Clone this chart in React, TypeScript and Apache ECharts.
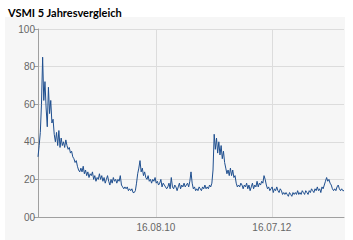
import React, { useEffect, useRef } from "react";
import * as echarts from "echarts";

const TITLE = "VSMI 5 Jahresvergleich";
const START_UTC = Date.UTC(2008, 8, 3);
const STEP_DAYS = 7;
const X_LABEL_DATES = [Date.UTC(2010, 7, 16), Date.UTC(2012, 6, 16)];

// weekly VSMI values
const vsmi2008_09 = [
  32, 38, 45, 60, 85, 62, 72, 58, 48, 69, 55, 62, 50, 52, 44, 40, 45, 38, 46, 37,
  42, 38, 40, 37, 41, 38, 36, 37, 34, 35, 32, 31, 29, 30, 27, 25, 24, 26, 24, 27,
  23, 25, 22, 24, 21, 23, 22, 24, 20, 22, 19, 21, 20, 23, 20, 22, 19, 21, 18, 20,
];
const vsmi2009_10 = [
  22, 19, 17, 20, 18, 21, 19, 20, 18, 20, 19, 22, 17, 16, 15, 16, 15, 16, 14, 15,
  14, 15, 13, 13, 14, 18, 23, 26, 30, 24, 26, 22, 24, 21, 20, 22, 19, 20, 18, 20,
  19, 21, 18, 19, 17, 18, 20, 16, 18, 17, 16, 15, 16, 18, 15, 21, 16, 15, 17, 16,
];
const vsmi2010_11 = [
  14, 16, 18, 15, 17, 16, 18, 16, 17, 18, 16, 19, 24, 18, 15, 16, 14, 15, 14, 16,
  15, 14, 16, 15, 17, 15, 16, 15, 17, 16, 18, 25, 44, 36, 42, 34, 40, 33, 38, 31,
  35, 29, 26, 23, 25, 22, 26, 22, 25, 21, 22, 18, 16, 17, 16, 18, 17, 15, 17, 16,
];
const vsmi2012_13 = [
  18, 15, 17, 14, 16, 18, 15, 17, 16, 19, 16, 18, 17, 19, 18, 22, 20, 17, 15, 16,
  14, 15, 16, 13, 15, 14, 16, 14, 13, 15, 14, 12, 13, 12, 13, 12, 11, 13, 12, 11,
  13, 12, 13, 12, 14, 12, 13, 12, 14, 13, 12, 14, 13, 12, 14, 13, 15, 14, 13, 15,
  14, 16, 14, 15, 13, 16, 15, 17, 19, 21, 19, 20, 18, 17, 15, 14, 15, 14, 16, 17,
  15, 14, 15, 14, 14,
];
const VALUES = [...vsmi2008_09, ...vsmi2009_10, ...vsmi2010_11, ...vsmi2012_13];

const pad2 = (n: number) => (n < 10 ? "0" + n : String(n));
const fmtDate = (v: number) => {
  const d = new Date(v);
  return pad2(d.getUTCDate()) + "." + pad2(d.getUTCMonth() + 1) + "." + pad2(d.getUTCFullYear() % 100);
};

export default function App() {
  const ref = useRef<HTMLDivElement>(null);
  useEffect(() => {
    if (!ref.current) return;
    const chart = echarts.init(ref.current, undefined, { renderer: "svg" });
    const data = VALUES.map((v, i) => [START_UTC + i * STEP_DAYS * 86400000, v]);
    const endUtc = START_UTC + (VALUES.length - 1) * STEP_DAYS * 86400000;
    chart.setOption({
      animation: false,
      graphic: [
        {
          type: "rect",
          z: -10,
          silent: true,
          shape: { x: 5, y: 17, width: 340, height: 223 },
          style: { fill: "#f6f6f6" },
        },
      ],
      title: {
        text: TITLE,
        left: 3,
        top: 2,
        textStyle: { fontFamily: "Lato", fontWeight: "bold", fontSize: 11, color: "#000" },
      },
      grid: { left: 38, right: 9, top: 29, bottom: 23, containLabel: false },
      xAxis: {
        type: "value",
        min: START_UTC,
        max: endUtc,
        axisLine: { show: true, lineStyle: { color: "#a0a0a0", width: 1 } },
        axisTick: { show: false, customValues: X_LABEL_DATES },
        axisLabel: {
          customValues: X_LABEL_DATES,
          formatter: (v: number) => fmtDate(v),
          color: "#666",
          fontSize: 10,
          fontFamily: "Liberation Sans",
          margin: 5,
        },
        splitLine: { show: true, lineStyle: { color: "#dcdcdc", width: 1 } },
      },
      yAxis: {
        type: "value",
        min: 0,
        max: 100,
        interval: 20,
        axisLine: { show: true, lineStyle: { color: "#a0a0a0", width: 1 } },
        axisTick: { show: true, length: 4, lineStyle: { color: "#a0a0a0" } },
        axisLabel: {
          formatter: (v: number) => pad2(v),
          color: "#666",
          fontSize: 10,
          fontFamily: "Liberation Sans",
          margin: 3,
        },
        splitLine: { show: true, lineStyle: { color: "#dcdcdc", width: 1 } },
      },
      series: [
        {
          type: "line",
          data,
          showSymbol: false,
          symbol: "none",
          lineStyle: { color: "#1f4f8f", width: 1 },
        },
      ],
    });
    return () => chart.dispose();
  }, []);
  return (
    <div
      ref={ref}
      style={{ position: "fixed", left: 0, top: 0, width: 353, height: 240, background: "#fff" }}
    />
  );
}
